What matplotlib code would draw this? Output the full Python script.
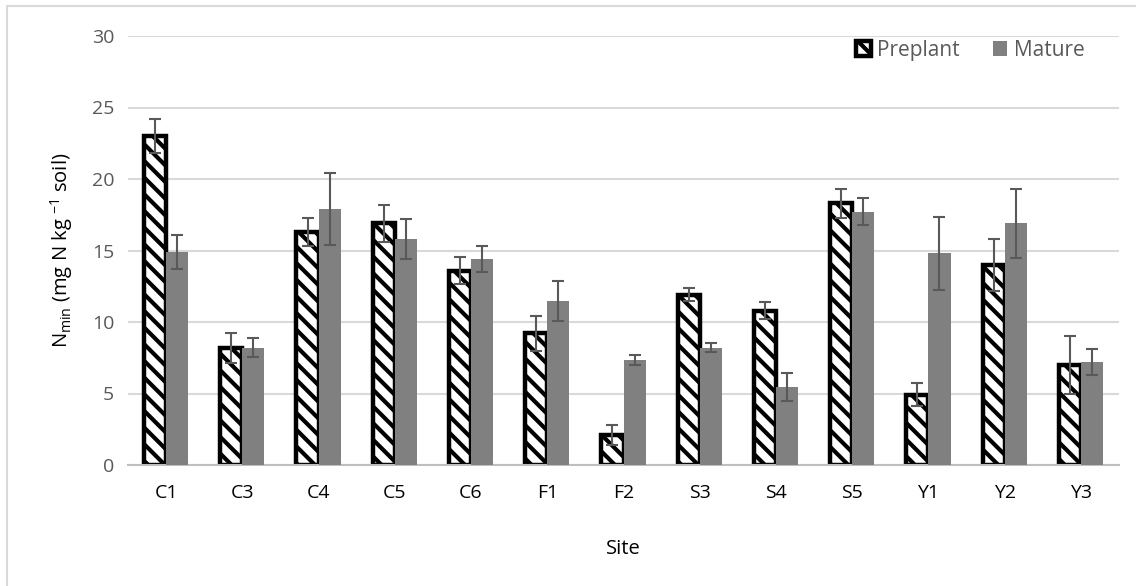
import matplotlib
matplotlib.use("Agg")
import matplotlib.pyplot as plt
import numpy as np
from matplotlib.patches import Rectangle

plt.rcParams['font.family'] = ['Open Sans', 'DejaVu Sans']
plt.rcParams['mathtext.default'] = 'regular'
plt.rcParams['hatch.linewidth'] = 3.0
plt.rcParams['hatch.color'] = 'black'

# mineral N per site, preplant vs mature sampling
sites = ['C1', 'C3', 'C4', 'C5', 'C6', 'F1', 'F2', 'S3', 'S4', 'S5', 'Y1', 'Y2', 'Y3']
preplant = [23.0, 8.2, 16.3, 16.9, 13.6, 9.2, 2.1, 11.9, 10.8, 18.3, 4.9, 14.0, 7.0]
preplant_err = [1.2, 1.05, 1.0, 1.3, 0.95, 1.2, 0.7, 0.45, 0.6, 1.0, 0.8, 1.8, 2.0]
mature = [14.9, 8.2, 17.9, 15.8, 14.4, 11.5, 7.35, 8.2, 5.45, 17.7, 14.8, 16.9, 7.2]
mature_err = [1.2, 0.65, 2.5, 1.4, 0.9, 1.4, 0.35, 0.3, 0.95, 0.95, 2.55, 2.4, 0.9]

fig = plt.figure(figsize=(11.36, 5.86), dpi=100)
ax = fig.add_axes([128/1136, 1 - 465/586, (1119-128)/1136, (465-36)/586])

# light frame around the whole chart area
fig.patches.append(Rectangle((7/1136, -0.05), 1.1, 1 - 6/586 + 0.05, transform=fig.transFigure,
                             fill=False, edgecolor='#d9d9d9', linewidth=1.5))

x = np.arange(len(sites))
w = 0.29
ax.bar(x - w/2, preplant, w, color='white', edgecolor='black', linewidth=3.2,
       hatch='\\\\', label='Preplant', zorder=2)
ax.bar(x + w/2, mature, w, color='#808080', label='Mature', zorder=3)
ax.errorbar(x - w/2, preplant, yerr=preplant_err, fmt='none', ecolor='#595959',
            elinewidth=1.5, capsize=4.5, capthick=1.5, zorder=4)
ax.errorbar(x + w/2, mature, yerr=mature_err, fmt='none', ecolor='#595959',
            elinewidth=1.5, capsize=4.5, capthick=1.5, zorder=4)

ax.set_xlim(-0.5, len(sites) - 0.5)
ax.set_ylim(0, 30)
ax.set_yticks(range(0, 31, 5))
ax.set_xticks(x)
ax.set_xticklabels(sites)
ax.yaxis.grid(True, color='#d9d9d9', linewidth=1.5, zorder=0)
ax.set_axisbelow(True)
for s in ['top', 'right', 'left']:
    ax.spines[s].set_visible(False)
ax.spines['bottom'].set_color('#bfbfbf')
ax.spines['bottom'].set_linewidth(1.5)
ax.tick_params(axis='both', length=0, labelsize=14, colors='#595959', pad=10)
ax.tick_params(axis='x', labelcolor='black', pad=14)

ax.set_xlabel('Site', fontsize=14.5, labelpad=26)
ax.set_ylabel('N$_{min}$ (mg N kg $^{-1}$ soil)', fontsize=14.5, labelpad=12)

leg = ax.legend(loc='upper right', bbox_to_anchor=(0.984, 1.035), ncol=2, frameon=False,
                fontsize=15, handlelength=0.7, handleheight=0.7, handletextpad=0.3,
                columnspacing=1.6, labelcolor='#595959')

fig.savefig('out.png', dpi=100)
